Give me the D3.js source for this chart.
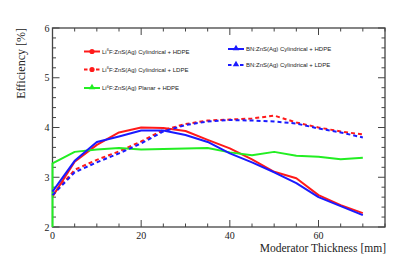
<!DOCTYPE html>
<html>
<head>
<meta charset="utf-8">
<script src="https://cdn.jsdelivr.net/npm/d3@7"></script>
<style>
  body { margin: 0; background: #fff; }
  svg { display: block; }
</style>
</head>
<body>
<svg width="407" height="277"></svg>
<script>
// Data
const thickness = [0, 5, 10, 15, 20, 25, 30, 35, 40, 45, 50, 55, 60, 65, 70];
const lifCylHdpe = [2.61, 3.31, 3.65, 3.90, 4.00, 3.99, 3.93, 3.75, 3.58, 3.36, 3.11, 2.98, 2.64, 2.44, 2.28];
const lifCylLdpe = [2.64, 3.15, 3.35, 3.52, 3.72, 3.95, 4.07, 4.14, 4.16, 4.18, 4.24, 4.10, 4.00, 3.92, 3.86];
const bnCylHdpe  = [2.71, 3.33, 3.71, 3.82, 3.94, 3.94, 3.85, 3.71, 3.48, 3.30, 3.10, 2.88, 2.60, 2.42, 2.24];
const bnCylLdpe  = [2.64, 3.10, 3.30, 3.48, 3.68, 3.92, 4.05, 4.12, 4.15, 4.14, 4.12, 4.08, 3.98, 3.90, 3.80];
// planar curve has an extra point at 0 mm that lies below the frame
const planarX = [0, 0, 5, 10, 15, 20, 25, 30, 35, 40, 45, 50, 55, 60, 65, 70];
const lifPlanarHdpe = [0, 3.28, 3.51, 3.56, 3.59, 3.56, 3.57, 3.58, 3.59, 3.50, 3.44, 3.51, 3.43, 3.41, 3.36, 3.39];

const xTicks = [0, 20, 40, 60];
const yTicks = [2, 3, 4, 5, 6];

const series = [
  { name: "LiF:ZnS(Ag) Cylindrical + HDPE", li: true, x: thickness, y: lifCylHdpe, color: "#ff1a1a", dash: null, mark: "circle" },
  { name: "LiF:ZnS(Ag) Cylindrical + LDPE", li: true, x: thickness, y: lifCylLdpe, color: "#ff1a1a", dash: "4,3", mark: "circle" },
  { name: "LiF:ZnS(Ag) Planar + HDPE", li: true, x: planarX, y: lifPlanarHdpe, color: "#22ee22", dash: null, mark: "triangle" },
  { name: "BN:ZnS(Ag) Cylindrical + HDPE", li: false, x: thickness, y: bnCylHdpe, color: "#1a1aff", dash: null, mark: "triangle" },
  { name: "BN:ZnS(Ag) Cylindrical + LDPE", li: false, x: thickness, y: bnCylLdpe, color: "#1a1aff", dash: "4,3", mark: "triangle" }
];

const svg = d3.select("svg");
const plot = { left: 52.5, right: 385, top: 28, bottom: 227 };

const xScale = d3.scaleLinear().domain([0, 75]).range([plot.left, plot.right]);
const yScale = d3.scaleLinear().domain([2, 6]).range([plot.bottom, plot.top]);

// clip a little wider on the left so the curve at 0 mm shows over the frame
svg.append("defs").append("clipPath").attr("id", "plot-clip")
   .append("rect")
   .attr("x", plot.left - 1.5).attr("y", plot.top)
   .attr("width", plot.right - plot.left + 1.5).attr("height", plot.bottom - plot.top);

const frameColor = "#444";
const serif = "'Liberation Serif', 'DejaVu Serif', serif";
const sans = "'Liberation Sans', Arial, sans-serif";

// Ticks (ROOT style: on all four sides, pointing inwards)
const g = svg.append("g");
const xMinor = d3.range(0, 76, 5);
const yMinor = d3.range(2, 6.01, 0.2);
xMinor.forEach(v => {
  const len = xTicks.includes(v) ? 7 : 3.5;
  g.append("line").attr("x1", xScale(v)).attr("x2", xScale(v))
   .attr("y1", plot.bottom).attr("y2", plot.bottom - len)
   .attr("stroke", frameColor).attr("stroke-width", 1);
  g.append("line").attr("x1", xScale(v)).attr("x2", xScale(v))
   .attr("y1", plot.top).attr("y2", plot.top + len)
   .attr("stroke", frameColor).attr("stroke-width", 1);
});
yMinor.forEach(v => {
  const major = Math.abs(v - Math.round(v)) < 1e-6;
  const len = major ? 7 : 3.5;
  g.append("line").attr("y1", yScale(v)).attr("y2", yScale(v))
   .attr("x1", plot.left).attr("x2", plot.left + len)
   .attr("stroke", frameColor).attr("stroke-width", 1);
  g.append("line").attr("y1", yScale(v)).attr("y2", yScale(v))
   .attr("x1", plot.right).attr("x2", plot.right - len)
   .attr("stroke", frameColor).attr("stroke-width", 1);
});

// Frame (drawn under the curves, like ROOT)
svg.append("rect")
   .attr("x", plot.left).attr("y", plot.top)
   .attr("width", plot.right - plot.left).attr("height", plot.bottom - plot.top)
   .attr("fill", "none").attr("stroke", frameColor).attr("stroke-width", 1.3);

// Curves
const line = d3.line().x(d => xScale(d[0])).y(d => yScale(d[1]));
series.forEach(s => {
  svg.append("path")
     .datum(d3.zip(s.x, s.y))
     .attr("d", line)
     .attr("fill", "none")
     .attr("stroke", s.color)
     .attr("stroke-width", 2)
     .attr("stroke-dasharray", s.dash)
     .attr("stroke-linejoin", "round")
     .attr("clip-path", "url(#plot-clip)");
});

// Tick labels
xTicks.forEach(v => {
  svg.append("text").attr("x", xScale(v)).attr("y", plot.bottom + 12)
     .attr("text-anchor", "middle").style("font-family", serif).style("font-size", "10px")
     .attr("fill", "#222").text(v);
});
yTicks.forEach(v => {
  svg.append("text").attr("x", plot.left - 3).attr("y", yScale(v) + 3.5)
     .attr("text-anchor", "end").style("font-family", serif).style("font-size", "10px")
     .attr("fill", "#222").text(v);
});

// Axis titles
svg.append("text").attr("x", plot.right + 1).attr("y", 252)
   .attr("text-anchor", "end").style("font-family", serif).style("font-size", "11.5px")
   .attr("fill", "#222").text("Moderator Thickness [mm]");
svg.append("text").attr("transform", `translate(25, ${plot.top}) rotate(-90)`)
   .attr("text-anchor", "end").style("font-family", serif).style("font-size", "12px")
   .attr("fill", "#222").text("Efficiency [%]");

// Legend
const legendPos = [
  { x: 84, y: 51.5 }, { x: 84, y: 69.5 }, { x: 84, y: 88 },
  { x: 228, y: 49 }, { x: 228, y: 65 }
];
series.forEach((s, i) => {
  const p = legendPos[i];
  const lg = svg.append("g").attr("transform", `translate(${p.x}, ${p.y})`);
  lg.append("line").attr("x1", 0).attr("x2", 16).attr("y1", 0).attr("y2", 0)
    .attr("stroke", s.color).attr("stroke-width", 2).attr("stroke-dasharray", s.dash ? "3.5,2.5" : null);
  if (s.mark === "circle") {
    lg.append("circle").attr("cx", 8).attr("cy", 0).attr("r", 2.6).attr("fill", s.color);
  } else {
    lg.append("path").attr("d", d3.symbol(d3.symbolTriangle, 18)())
      .attr("transform", "translate(8, -0.5)").attr("fill", s.color);
  }
  const t = lg.append("text").attr("x", 18).attr("y", 2.2)
    .style("font-family", sans).style("font-size", "6px").attr("fill", "#222");
  if (s.li) {
    t.append("tspan").text("Li");
    t.append("tspan").attr("dy", -2.5).style("font-size", "4px").text("6");
    t.append("tspan").attr("dy", 2.5).text(s.name.slice(2));
  } else {
    t.text(s.name);
  }
});
</script>
</body>
</html>
